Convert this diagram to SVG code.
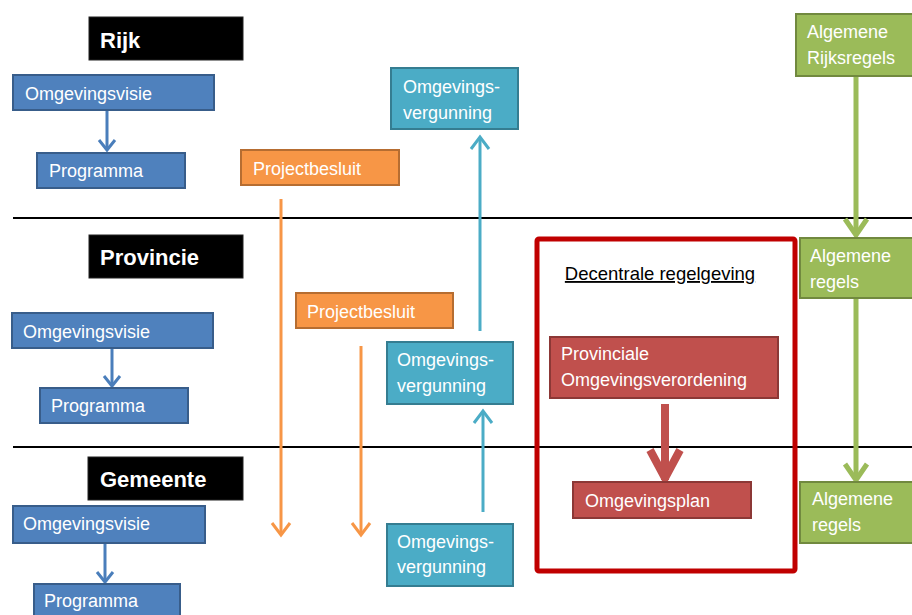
<svg xmlns="http://www.w3.org/2000/svg" width="912" height="615" viewBox="0 0 912 615">
<style>
text{font-family:"Liberation Sans",Arial,sans-serif;font-size:18px;fill:#fff}
.hdr{font-weight:bold;font-size:22px}
.blk{fill:#000;stroke:#222;stroke-width:1}
.blue{fill:#4F81BD;stroke:#385D8A;stroke-width:2}
.org{fill:#F79646;stroke:#B66D31;stroke-width:2}
.teal{fill:#4BACC6;stroke:#357D91;stroke-width:2}
.grn{fill:#9BBB59;stroke:#71893F;stroke-width:2}
.red{fill:#C0504D;stroke:#8C3836;stroke-width:2}
.c{fill:none;stroke-linecap:butt}
</style>
<defs>
<marker id="mb" markerUnits="userSpaceOnUse" viewBox="-12 -12 24 24" markerWidth="24" markerHeight="24" refX="0" refY="0" orient="auto"><path d="M-10,-8 L0,0 L-10,8" fill="none" stroke="#4A7EBB" stroke-width="3"/></marker>
<marker id="mo" markerUnits="userSpaceOnUse" viewBox="-14 -12 28 24" markerWidth="28" markerHeight="24" refX="0" refY="0" orient="auto"><path d="M-12,-9 L0,0 L-12,9" fill="none" stroke="#F79646" stroke-width="3"/></marker>
<marker id="mt" markerUnits="userSpaceOnUse" viewBox="-14 -12 28 24" markerWidth="28" markerHeight="24" refX="0" refY="0" orient="auto"><path d="M-12,-9 L0,0 L-12,9" fill="none" stroke="#4BACC6" stroke-width="3"/></marker>
<marker id="mg" markerUnits="userSpaceOnUse" viewBox="-20 -16 40 32" markerWidth="40" markerHeight="32" refX="0" refY="0" orient="auto"><path d="M-16,-11 L0,0 L-16,11" fill="none" stroke="#9BBB59" stroke-width="5"/></marker>
<marker id="mr" markerUnits="userSpaceOnUse" viewBox="-40 -24 48 48" markerWidth="48" markerHeight="48" refX="0" refY="0" orient="auto"><path d="M-30,-15 L-2,0 L-30,15" fill="none" stroke="#C0504D" stroke-width="8" stroke-linejoin="miter"/></marker>
</defs>

<g id="lanes">
<line x1="13" y1="218" x2="912" y2="218" stroke="#000" stroke-width="2"/>
<line x1="13" y1="447" x2="912" y2="447" stroke="#000" stroke-width="2"/>
</g>

<g id="decentraal-frame">
<rect x="537" y="239" width="258" height="332" rx="2" fill="none" stroke="#C00000" stroke-width="5"/>
<text x="660" y="280" text-anchor="middle" style="fill:#000;text-decoration:underline;font-size:18.5px">Decentrale regelgeving</text>
</g>

<g id="connectors">
<line class="c" x1="107" y1="110" x2="107" y2="150" stroke="#4A7EBB" stroke-width="3" marker-end="url(#mb)"/>
<line class="c" x1="112" y1="348" x2="112" y2="386" stroke="#4A7EBB" stroke-width="3" marker-end="url(#mb)"/>
<line class="c" x1="105" y1="543" x2="105" y2="582" stroke="#4A7EBB" stroke-width="3" marker-end="url(#mb)"/>
<line class="c" x1="281" y1="199" x2="281" y2="535" stroke="#F79646" stroke-width="3" marker-end="url(#mo)"/>
<line class="c" x1="361" y1="346" x2="361" y2="535" stroke="#F79646" stroke-width="3" marker-end="url(#mo)"/>
<line class="c" x1="480" y1="331" x2="480" y2="137" stroke="#4BACC6" stroke-width="3" marker-end="url(#mt)"/>
<line class="c" x1="483" y1="512" x2="483" y2="411" stroke="#4BACC6" stroke-width="3" marker-end="url(#mt)"/>
<line class="c" x1="856" y1="76" x2="856" y2="235" stroke="#9BBB59" stroke-width="5" marker-end="url(#mg)"/>
<line class="c" x1="856" y1="298" x2="856" y2="480" stroke="#9BBB59" stroke-width="5" marker-end="url(#mg)"/>
<line class="c" x1="665" y1="404" x2="665" y2="480" stroke="#C0504D" stroke-width="8" marker-end="url(#mr)"/>
</g>

<g id="rijk"><rect class="blk" x="89" y="17" width="154" height="43"/><text class="hdr" x="100" y="48">Rijk</text></g>
<g id="rijk-visie"><rect class="blue" x="13" y="75" width="201" height="35"/><text x="25" y="100">Omgevingsvisie</text></g>
<g id="rijk-programma"><rect class="blue" x="37" y="153" width="148" height="35"/><text x="49" y="177">Programma</text></g>
<g id="rijk-projectbesluit"><rect class="org" x="241" y="150" width="158" height="35"/><text x="253" y="175">Projectbesluit</text></g>
<g id="rijk-vergunning"><rect class="teal" x="391" y="68" width="127" height="61"/><text x="403" y="93">Omgevings-</text><text x="403" y="119">vergunning</text></g>
<g id="rijk-regels"><rect class="grn" x="796" y="14" width="120" height="62"/><text x="807" y="38">Algemene</text><text x="807" y="64">Rijksregels</text></g>

<g id="provincie"><rect class="blk" x="89" y="235" width="154" height="43"/><text class="hdr" x="100" y="265">Provincie</text></g>
<g id="prov-visie"><rect class="blue" x="12" y="313" width="201" height="35"/><text x="23" y="338">Omgevingsvisie</text></g>
<g id="prov-programma"><rect class="blue" x="40" y="388" width="148" height="35"/><text x="51" y="412">Programma</text></g>
<g id="prov-projectbesluit"><rect class="org" x="296" y="293" width="157" height="35"/><text x="307" y="318">Projectbesluit</text></g>
<g id="prov-vergunning"><rect class="teal" x="387" y="342" width="126" height="62"/><text x="397" y="366">Omgevings-</text><text x="397" y="392">vergunning</text></g>
<g id="prov-verordening"><rect class="red" x="550" y="337" width="228" height="61"/><text x="561" y="360">Provinciale</text><text x="561" y="386">Omgevingsverordening</text></g>
<g id="prov-regels"><rect class="grn" x="800" y="238" width="116" height="60"/><text x="810" y="262">Algemene</text><text x="810" y="288">regels</text></g>

<g id="gemeente"><rect class="blk" x="88" y="457" width="155" height="43"/><text class="hdr" x="100" y="487">Gemeente</text></g>
<g id="gem-visie"><rect class="blue" x="13" y="506" width="192" height="37"/><text x="23" y="530">Omgevingsvisie</text></g>
<g id="gem-programma"><rect class="blue" x="34" y="584" width="146" height="40"/><text x="44" y="607">Programma</text></g>
<g id="gem-vergunning"><rect class="teal" x="387" y="524" width="126" height="62"/><text x="397" y="548">Omgevings-</text><text x="397" y="573">vergunning</text></g>
<g id="gem-plan"><rect class="red" x="573" y="482" width="178" height="36"/><text x="585" y="507">Omgevingsplan</text></g>
<g id="gem-regels"><rect class="grn" x="800" y="482" width="116" height="61"/><text x="812" y="505">Algemene</text><text x="812" y="531">regels</text></g>
</svg>
